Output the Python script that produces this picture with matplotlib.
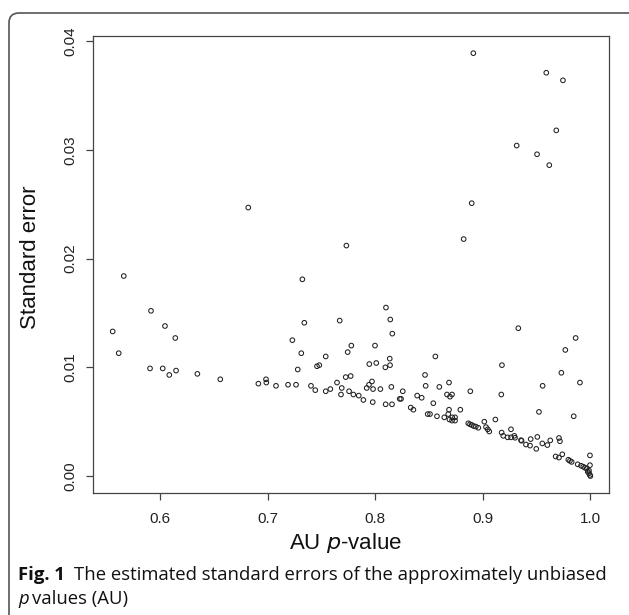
import numpy as np
import matplotlib
matplotlib.use('Agg')
import matplotlib.pyplot as plt
from matplotlib.patches import FancyBboxPatch

# AU p-value (x) and its standard error (y)
au_p = [
    0.8912, 0.9590, 0.9745, 0.9683, 0.9315, 0.9504, 0.9618, 0.8897, 0.8822, 0.7732, 0.6820,
    0.5663, 0.5560, 0.5616, 0.5916, 0.6046, 0.6142, 0.5907, 0.6025, 0.6086, 0.6149, 0.6347,
    0.6560, 0.6914, 0.6985, 0.6988, 0.7078, 0.7190, 0.7264, 0.7230, 0.7323, 0.7341, 0.7313,
    0.7280, 0.7403, 0.7443, 0.7459, 0.7480, 0.7540, 0.7540, 0.7583, 0.7645, 0.7670, 0.7682,
    0.7744, 0.7778, 0.7998, 0.7945, 0.8010, 0.8094, 0.8135, 0.8138, 0.8100, 0.8140, 0.8159,
    0.7726, 0.7772, 0.7689, 0.7757, 0.7797, 0.7847, 0.7890, 0.7921, 0.7942, 0.7970, 0.7980,
    0.7977, 0.8048, 0.8097, 0.8156, 0.8150, 0.8228, 0.8240, 0.8256, 0.8330, 0.8355, 0.8390,
    0.8432, 0.8463, 0.8469, 0.8488, 0.8509, 0.8540, 0.8559, 0.8574, 0.8596, 0.8642, 0.8667,
    0.8686, 0.8695, 0.8714, 0.8686, 0.8679, 0.8716, 0.8742, 0.8690, 0.8714, 0.8742, 0.8791,
    0.8884, 0.8865, 0.8881, 0.8897, 0.8915, 0.8935, 0.8958, 0.9014, 0.9030, 0.9046, 0.9060,
    0.9117, 0.9178, 0.9172, 0.9175, 0.9190, 0.9231, 0.9262, 0.9293, 0.9300, 0.9262, 0.9330,
    0.9355, 0.9360, 0.9445, 0.9507, 0.9401, 0.9439, 0.9497, 0.9553, 0.9600, 0.9627, 0.9522,
    0.9556, 0.9708, 0.9717, 0.9730, 0.9767, 0.9863, 0.9903, 0.9845, 0.9677, 0.9708, 0.9739,
    0.9795, 0.9810, 0.9826, 0.9882, 0.9913, 0.9934, 0.9950, 0.9966, 0.9975, 0.9987, 0.9996,
    1.0000, 0.9996, 0.9996, 0.9987,
]
std_err = [
    0.0389, 0.0371, 0.0364, 0.0318, 0.0304, 0.0296, 0.0286, 0.0251, 0.0218, 0.0212, 0.0247,
    0.0184, 0.0133, 0.0113, 0.0152, 0.0138, 0.0127, 0.0099, 0.0099, 0.0093, 0.0097, 0.0094,
    0.0089, 0.0085, 0.0089, 0.0086, 0.0083, 0.0084, 0.0084, 0.0125, 0.0181, 0.0141, 0.0113,
    0.0098, 0.0083, 0.0079, 0.0101, 0.0102, 0.0110, 0.0078, 0.0080, 0.0086, 0.0143, 0.0075,
    0.0114, 0.0120, 0.0120, 0.0103, 0.0104, 0.0100, 0.0108, 0.0102, 0.0155, 0.0144, 0.0131,
    0.0091, 0.0092, 0.0081, 0.0078, 0.0075, 0.0074, 0.0070, 0.0081, 0.0084, 0.0087, 0.0080,
    0.0068, 0.0080, 0.0066, 0.0066, 0.0082, 0.0071, 0.0071, 0.0078, 0.0063, 0.0061, 0.0074,
    0.0072, 0.0093, 0.0083, 0.0057, 0.0057, 0.0067, 0.0110, 0.0055, 0.0082, 0.0054, 0.0075,
    0.0086, 0.0073, 0.0075, 0.0061, 0.0057, 0.0054, 0.0054, 0.0052, 0.0051, 0.0051, 0.0061,
    0.0078, 0.00485, 0.00476, 0.0047, 0.0046, 0.00455, 0.00444, 0.0050, 0.0045, 0.0043, 0.0041,
    0.0052, 0.0102, 0.0075, 0.0040, 0.0037, 0.00356, 0.00356, 0.0037, 0.00352, 0.0043, 0.0136,
    0.0033, 0.00325, 0.0034, 0.0036, 0.0029, 0.0028, 0.0025, 0.0030, 0.00285, 0.00328, 0.0059,
    0.0083, 0.0035, 0.0032, 0.0095, 0.0116, 0.0127, 0.0086, 0.0055, 0.0018, 0.0017, 0.0020,
    0.0015, 0.0014, 0.0013, 0.00108, 0.00095, 0.00086, 0.00076, 0.00071, 0.0004, 0.00025, 0.0001,
    0.0000, 0.0019, 0.0010, 0.0005,
]

x_ticks = [0.6, 0.7, 0.8, 0.9, 1.0]
y_ticks = [0.00, 0.01, 0.02, 0.03, 0.04]

W, H = 629, 615
fig = plt.figure(figsize=(W / 100, H / 100), dpi=100)
ax = fig.add_axes([93 / W, 1 - 493 / H, 516 / W, 457 / H])

edge = '#444444'
ax.scatter(au_p, std_err, s=11, facecolors='none', edgecolors='#222222', linewidths=0.75)

ax.set_xlim(0.5377, 1.0173)
ax.set_ylim(-0.00156, 0.04048)
ax.set_xticks(x_ticks)
ax.set_xticklabels(['%.1f' % t for t in x_ticks])
ax.set_yticks(y_ticks)
ax.set_yticklabels(['%.2f' % t for t in y_ticks], rotation=90, va='center')

for sp in ax.spines.values():
    sp.set_color(edge)
    sp.set_linewidth(0.9)
ax.tick_params(axis='both', direction='out', length=5, width=0.9, color=edge,
               labelsize=11, labelfontfamily='Liberation Sans', labelcolor='#222222')
ax.tick_params(axis='x', pad=9)
ax.tick_params(axis='y', pad=6)

ax.set_xlabel('AU $p$-value', fontsize=16, family='Liberation Sans', color='#111111', va='center')
ax.set_ylabel('Standard error', fontsize=16, family='Liberation Sans', color='#111111', va='center')
ax.xaxis.set_label_coords(0.49, -0.109)
ax.yaxis.set_label_coords(-0.122, 0.515)

# caption below the plot
cap_size = 13.3
fig.canvas.draw()
r = fig.canvas.get_renderer()
t1 = fig.text(18 / W, 1 - 580 / H, 'Fig. 1', fontsize=cap_size, fontweight='bold',
              family='Open Sans', color='#111111')
bb = t1.get_window_extent(r)
fig.text((bb.x1 + 9) / W, 1 - 580 / H,
         'The estimated standard errors of the approximately unbiased',
         fontsize=cap_size, family='Open Sans', color='#111111')
t3 = fig.text(18 / W, 1 - 604 / H, 'p', fontsize=cap_size, style='italic',
              family='Open Sans', color='#111111')
bb3 = t3.get_window_extent(r)
fig.text((bb3.x1 + 3) / W, 1 - 604 / H, 'values (AU)', fontsize=cap_size,
         family='Open Sans', color='#111111')

# rounded frame, open at the right and bottom
rad = 10
frame = FancyBboxPatch((9 / W, -0.2), 1.2, 1 - 13 / H + 0.2,
                       boxstyle='round,pad=0,rounding_size=%f' % (rad / W),
                       transform=fig.transFigure, fill=False, edgecolor='#555555',
                       linewidth=1.2, clip_on=False)
fig.patches.append(frame)

fig.savefig('out.png', dpi=100)
